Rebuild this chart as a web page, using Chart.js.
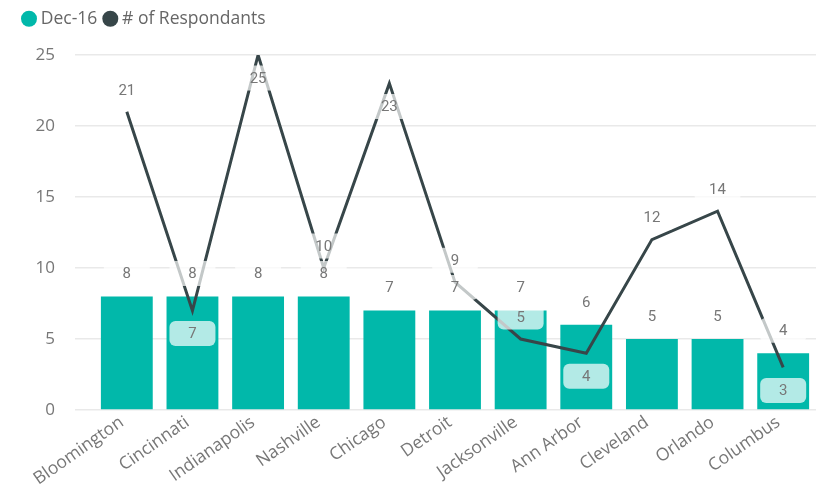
<!DOCTYPE html>
<html>
<head>
<meta charset="utf-8">
<script src="https://cdn.jsdelivr.net/npm/chart.js@4/dist/chart.umd.min.js"></script>
<style>
  html, body { margin: 0; padding: 0; background: #fff; }
</style>
</head>
<body>
<canvas id="comboChart" width="838" height="490"></canvas>
<script>
const cities = ['Bloomington', 'Cincinnati', 'Indianapolis', 'Nashville', 'Chicago', 'Detroit',
    'Jacksonville', 'Ann Arbor', 'Cleveland', 'Orlando', 'Columbus'];
const dec16 = [8, 8, 8, 8, 7, 7, 7, 6, 5, 5, 4];
const respondants = [21, 7, 25, 10, 23, 9, 5, 4, 12, 14, 3];
const yTicks = [0, 5, 10, 15, 20, 25];

// which side of the point each line label sits on
const lineLabelSide = ['above', 'below', 'below', 'above', 'below', 'above',
    'above', 'below', 'above', 'above', 'below'];

const teal = '#01B8AA';
const dark = '#374649';
const textGray = '#777777';

function drawBox(c, x, y, text) {
    const w = 46, h = 25;
    c.fillStyle = 'rgba(255,255,255,0.7)';
    c.beginPath();
    c.roundRect(x - w / 2, y - h / 2, w, h, 6);
    c.fill();
    c.fillStyle = textGray;
    c.fillText(text, x, y + 1);
}

const valueLabels = {
    id: 'valueLabels',
    afterDatasetsDraw(chart) {
        const c = chart.ctx;
        c.save();
        c.font = '15px Roboto';
        c.textAlign = 'center';
        c.textBaseline = 'middle';

        chart.getDatasetMeta(0).data.forEach((bar, i) => {
            drawBox(c, bar.x, bar.y - 23, String(dec16[i]));
        });

        chart.getDatasetMeta(1).data.forEach((pt, i) => {
            const dy = lineLabelSide[i] === 'above' ? -22 : 23;
            drawBox(c, pt.x, pt.y + dy, String(respondants[i]));
        });
        c.restore();
    }
};

// fixed legend height so the plot starts where the reference does
const legendHeight = {
    id: 'legendHeight',
    beforeLayout(chart) {
        const lg = chart.legend;
        if (lg && !lg._fixed) {
            const fit = lg.fit;
            lg.fit = function () {
                fit.call(this);
                this.height = 55;
            };
            lg._fixed = true;
        }
    }
};

const ctx = document.getElementById('comboChart');

new Chart(ctx, {
    type: 'bar',
    data: {
        labels: cities,
        datasets: [{
            label: 'Dec-16',
            data: dec16,
            backgroundColor: teal,
            borderWidth: 0,
            categoryPercentage: 1,
            barPercentage: 0.79,
            order: 2
        }, {
            type: 'line',
            label: '# of Respondants',
            data: respondants,
            borderColor: dark,
            backgroundColor: dark,
            borderWidth: 3,
            pointRadius: 0,
            pointStyle: 'circle',
            tension: 0,
            fill: false,
            order: 1
        }]
    },
    options: {
        responsive: false,
        animation: false,
        devicePixelRatio: 1,
        layout: {
            padding: { top: 0, right: 22, left: 16, bottom: 0 }
        },
        plugins: {
            tooltip: { enabled: false },
            legend: {
                align: 'start',
                labels: {
                    usePointStyle: true,
                    boxWidth: 6,
                    boxHeight: 11.3,
                    padding: 10,
                    color: '#666666',
                    font: { family: 'Open Sans', size: 17.5 },
                    sort: (a, b) => a.datasetIndex - b.datasetIndex,
                    generateLabels: (chart) =>
                        Chart.defaults.plugins.legend.labels.generateLabels(chart)
                            .map(item => ({ ...item, lineWidth: 0 }))
                }
            }
        },
        scales: {
            x: {
                grid: { display: false },
                border: { display: false },
                ticks: {
                    color: textGray,
                    font: { family: 'Open Sans', size: 17.5 },
                    minRotation: 35,
                    maxRotation: 35,
                    padding: -6,
                    labelOffset: -5
                },
                afterFit: (scale) => { scale.height = 80; }
            },
            y: {
                min: 0,
                max: 25,
                afterBuildTicks: (scale) => {
                    scale.ticks = yTicks.map(v => ({ value: v }));
                },
                grid: {
                    color: '#e9e9e9',
                    lineWidth: 1.5,
                    drawTicks: true,
                    tickLength: 19
                },
                border: { display: false },
                ticks: {
                    color: textGray,
                    font: { family: 'Open Sans', size: 17 },
                    padding: 20
                },
                afterFit: (scale) => { scale.width = 78; }
            }
        }
    },
    plugins: [valueLabels, legendHeight]
});
</script>
</body>
</html>
